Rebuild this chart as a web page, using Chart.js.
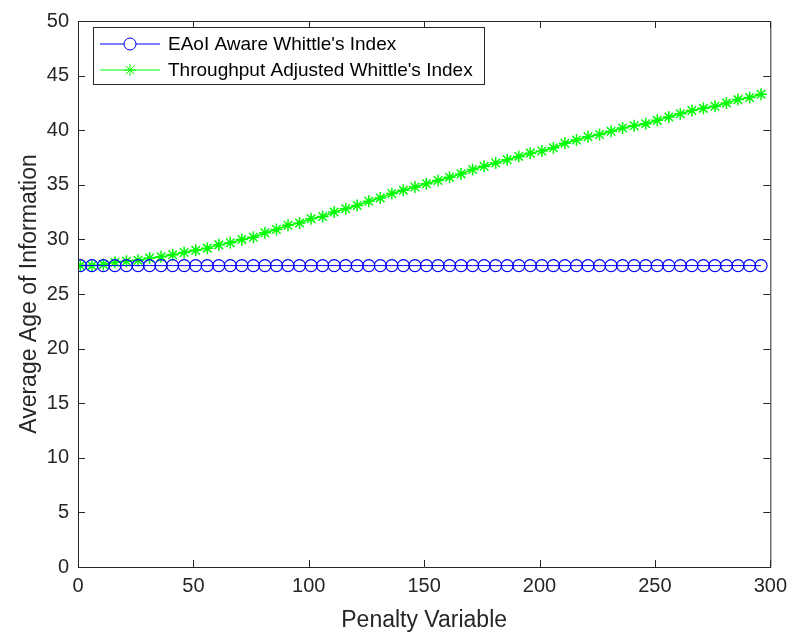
<!DOCTYPE html>
<html>
<head>
<meta charset="utf-8">
<script src="https://cdn.jsdelivr.net/npm/chart.js@4"></script>
<style>
  html, body { margin: 0; padding: 0; background: #fff; }
  #wrap { width: 794px; height: 636px; }
</style>
</head>
<body>
<div id="wrap"><canvas id="aoiChart" width="794" height="636"></canvas></div>
<script>
// Penalty variable sweep
const penalty = [1, 6, 11, 16, 21, 26, 31, 36, 41, 46, 51, 56, 61, 66, 71, 76, 81, 86, 91, 96,
  101, 106, 111, 116, 121, 126, 131, 136, 141, 146, 151, 156, 161, 166, 171, 176, 181, 186, 191, 196,
  201, 206, 211, 216, 221, 226, 231, 236, 241, 246, 251, 256, 261, 266, 271, 276, 281, 286, 291, 296]

// EAoI aware index stays flat
const eaoiAware = [27.6, 27.6, 27.6, 27.6, 27.6, 27.6, 27.6, 27.6, 27.6, 27.6,
  27.6, 27.6, 27.6, 27.6, 27.6, 27.6, 27.6, 27.6, 27.6, 27.6,
  27.6, 27.6, 27.6, 27.6, 27.6, 27.6, 27.6, 27.6, 27.6, 27.6,
  27.6, 27.6, 27.6, 27.6, 27.6, 27.6, 27.6, 27.6, 27.6, 27.6,
  27.6, 27.6, 27.6, 27.6, 27.6, 27.6, 27.6, 27.6, 27.6, 27.6,
  27.6, 27.6, 27.6, 27.6, 27.6, 27.6, 27.6, 27.6, 27.6, 27.6]

// throughput adjusted index grows with the penalty
const throughputAdj = [27.6, 27.6, 27.7, 27.9, 28.0, 28.1, 28.3, 28.4, 28.6, 28.8,
  29.0, 29.2, 29.5, 29.7, 30.0, 30.2, 30.6, 30.9, 31.3, 31.5,
  31.9, 32.1, 32.5, 32.8, 33.1, 33.5, 33.8, 34.2, 34.5, 34.8,
  35.1, 35.4, 35.7, 36.0, 36.4, 36.7, 37.0, 37.3, 37.6, 37.9,
  38.1, 38.4, 38.8, 39.1, 39.4, 39.6, 39.9, 40.2, 40.4, 40.6,
  40.9, 41.2, 41.5, 41.8, 42.0, 42.2, 42.5, 42.8, 43.0, 43.3]

const xTicks = [0, 50, 100, 150, 200, 250, 300]
const yTicks = [0, 5, 10, 15, 20, 25, 30, 35, 40, 45, 50]

const seriesNames = ["EAoI Aware Whittle's Index", "Throughput Adjusted Whittle's Index"]

const FONT = "'Liberation Sans', Arial, Helvetica, sans-serif"
const TEXT = '#262626'

function toPoints(ys) {
  return penalty.map((x, i) => ({ x: x, y: ys[i] }))
}

// box frame, inward ticks on all sides and the in-plot legend
const matlabAxes = {
  id: 'matlabAxes',
  afterDraw(chart) {
    const ctx = chart.ctx
    const a = chart.chartArea
    const xs = chart.scales.x
    const ys = chart.scales.y
    const tl = 7

    ctx.save()
    ctx.strokeStyle = '#262626'
    ctx.lineWidth = 1
    ctx.beginPath()
    ctx.rect(a.left + 0.5, a.top + 0.5, a.right - a.left, a.bottom - a.top)
    ctx.stroke()

    ctx.beginPath()
    xTicks.forEach(v => {
      const px = Math.round(xs.getPixelForValue(v)) + 0.5
      ctx.moveTo(px, a.bottom); ctx.lineTo(px, a.bottom - tl)
      ctx.moveTo(px, a.top); ctx.lineTo(px, a.top + tl)
    })
    yTicks.forEach(v => {
      const py = Math.round(ys.getPixelForValue(v)) + 0.5
      ctx.moveTo(a.left, py); ctx.lineTo(a.left + tl, py)
      ctx.moveTo(a.right, py); ctx.lineTo(a.right - tl, py)
    })
    ctx.stroke()

    // legend box
    const lx = a.left + 15, ly = a.top + 6, lw = 391, lh = 57
    ctx.fillStyle = '#fff'
    ctx.fillRect(lx, ly, lw, lh)
    ctx.strokeStyle = '#262626'
    ctx.strokeRect(lx + 0.5, ly + 0.5, lw, lh)

    chart.data.datasets.forEach((ds, i) => {
      const cy = ly + 17 + i * 26
      ctx.strokeStyle = ds.borderColor
      ctx.lineWidth = 1
      ctx.beginPath()
      ctx.moveTo(lx + 7, cy); ctx.lineTo(lx + 67, cy)
      ctx.stroke()
      Chart.helpers.drawPoint(ctx, {
        pointStyle: ds.pointStyle, radius: ds.pointRadius, borderWidth: 1, rotation: 0
      }, lx + 37, cy)
      ctx.fillStyle = '#000'
      ctx.font = '19px ' + FONT
      ctx.textBaseline = 'middle'
      ctx.textAlign = 'left'
      ctx.fillText(seriesNames[i], lx + 75, cy + 1)
    })
    ctx.restore()
  }
}

new Chart(document.getElementById('aoiChart'), {
  type: 'line',
  data: {
    datasets: [
      {
        label: seriesNames[0],
        data: toPoints(eaoiAware),
        borderColor: '#0000ff',
        backgroundColor: 'rgba(0,0,0,0)',
        borderWidth: 1,
        pointStyle: 'circle',
        pointRadius: 6,
        pointBorderWidth: 1.2,
        pointBorderColor: '#0000ff',
        pointBackgroundColor: 'rgba(0,0,0,0)',
        tension: 0
      },
      {
        label: seriesNames[1],
        data: toPoints(throughputAdj),
        borderColor: '#00ff00',
        backgroundColor: 'rgba(0,0,0,0)',
        borderWidth: 1.5,
        pointStyle: 'star',
        pointRadius: 6,
        pointBorderWidth: 1.5,
        pointBorderColor: '#00ff00',
        pointBackgroundColor: '#00ff00',
        tension: 0
      }
    ]
  },
  options: {
    responsive: false,
    animation: false,
    layout: { padding: { top: 20, right: 21, left: 0, bottom: 0 } },
    plugins: {
      legend: { display: false },
      tooltip: { enabled: false }
    },
    scales: {
      x: {
        type: 'linear',
        min: 0,
        max: 300,
        afterBuildTicks: s => { s.ticks = xTicks.map(v => ({ value: v })) },
        afterFit: s => { s.height = 69 },
        grid: { display: false, drawTicks: false },
        border: { display: false },
        ticks: { color: TEXT, font: { family: FONT, size: 20 }, padding: 7, maxRotation: 0 },
        title: { display: true, text: 'Penalty Variable', color: TEXT, font: { family: FONT, size: 23 }, padding: { top: 4, bottom: 2 } }
      },
      y: {
        type: 'linear',
        min: 0,
        max: 50,
        afterBuildTicks: s => { s.ticks = yTicks.map(v => ({ value: v })) },
        afterFit: s => { s.width = 78 },
        grid: { display: false, drawTicks: false },
        border: { display: false },
        ticks: { color: TEXT, font: { family: FONT, size: 20 }, padding: 9 },
        title: { display: true, text: 'Average Age of Information', color: TEXT, font: { family: FONT, size: 23 }, padding: { bottom: 0, top: 16 } }
      }
    }
  },
  plugins: [matlabAxes]
})
</script>
</body>
</html>
